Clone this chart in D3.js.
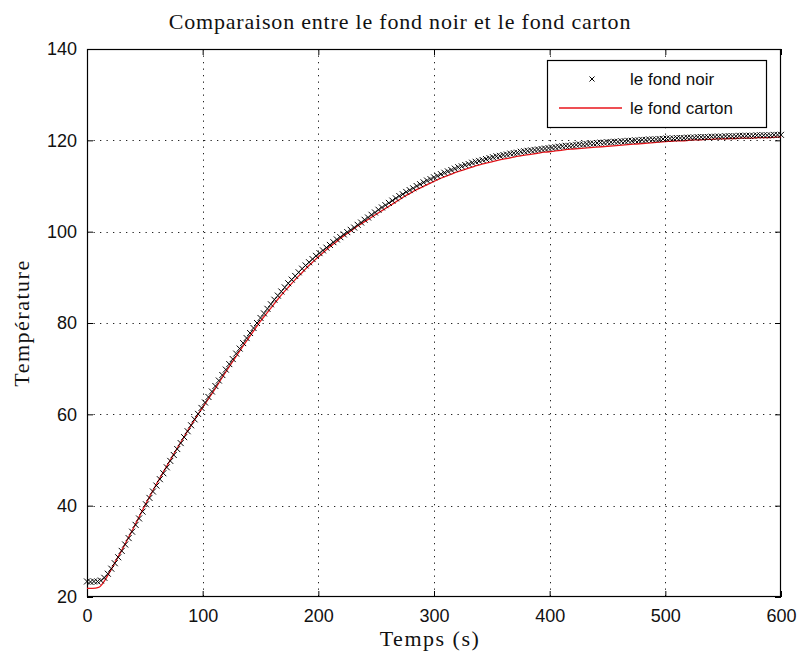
<!DOCTYPE html>
<html>
<head>
<meta charset="utf-8">
<script src="https://cdn.jsdelivr.net/npm/d3@7"></script>
<style>
  html, body { margin: 0; padding: 0; background: #ffffff; }
  svg { display: block; }
</style>
</head>
<body>
<svg id="chart" width="800" height="660"></svg>
<script>
// ---- data ----
const chartTitle = "Comparaison entre le fond noir et le fond carton";
const xLabel = "Temps (s)";
const yLabel = "Température";
const seriesNames = ["le fond noir", "le fond carton"];
const xTicks = [0, 100, 200, 300, 400, 500, 600];
const yTicks = [20, 40, 60, 80, 100, 120, 140];

// "le fond noir" : one sample every 3 s from 0 to 600 s
const noirStep = 3;
const noirValues = [
  23.4, 23.3, 23.4, 23.4, 23.6, 24.2, 25.1, 26.2, 27.4, 28.7,
  30.1, 31.5, 32.9, 34.3, 35.8, 37.2, 38.7, 40.3, 41.7, 43.1,
  44.4, 45.8, 47.1, 48.4, 49.8, 51.1, 52.4, 53.7, 55.0, 56.3,
  57.6, 58.9, 60.1, 61.4, 62.6, 63.8, 65.0, 66.2, 67.4, 68.6,
  69.8, 71.0, 72.1, 73.3, 74.4, 75.6, 76.7, 77.8, 78.9, 80.0,
  81.1, 82.1, 83.1, 84.1, 85.1, 86.0, 86.9, 87.8, 88.7, 89.5,
  90.3, 91.1, 91.9, 92.6, 93.3, 94.0, 94.7, 95.3, 95.9, 96.5,
  97.1, 97.7, 98.3, 98.8, 99.4, 99.9, 100.4, 100.9, 101.5, 102.0,
  102.6, 103.1, 103.7, 104.2, 104.8, 105.3, 105.8, 106.3, 106.8, 107.3,
  107.8, 108.2, 108.7, 109.1, 109.5, 110.0, 110.4, 110.8, 111.2, 111.5,
  111.9, 112.2, 112.6, 112.9, 113.2, 113.5, 113.8, 114.1, 114.3, 114.6,
  114.8, 115.1, 115.3, 115.5, 115.7, 115.9, 116.1, 116.3, 116.5, 116.6,
  116.8, 116.9, 117.1, 117.2, 117.3, 117.5, 117.6, 117.7, 117.8, 117.9,
  118.0, 118.1, 118.2, 118.3, 118.4, 118.5, 118.6, 118.7, 118.8, 118.8,
  118.9, 119.0, 119.1, 119.1, 119.2, 119.3, 119.3, 119.4, 119.5, 119.5,
  119.6, 119.6, 119.7, 119.7, 119.8, 119.8, 119.9, 119.9, 120.0, 120.0,
  120.1, 120.1, 120.2, 120.2, 120.2, 120.3, 120.3, 120.4, 120.4, 120.4,
  120.5, 120.5, 120.5, 120.6, 120.6, 120.6, 120.7, 120.7, 120.7, 120.7,
  120.8, 120.8, 120.8, 120.8, 120.9, 120.9, 120.9, 120.9, 121.0, 121.0,
  121.0, 121.0, 121.0, 121.1, 121.1, 121.1, 121.1, 121.1, 121.2, 121.2,
  121.2
];

// "le fond carton" : one sample every 5 s from 0 to 600 s
const cartonStep = 5;
const cartonValues = [
  21.9, 21.9, 22.1, 23.5, 25.6, 27.9, 30.2, 32.6, 35.0, 37.5,
  40.0, 42.4, 44.7, 46.9, 49.1, 51.3, 53.4, 55.5, 57.6, 59.6,
  61.5, 63.4, 65.3, 67.3, 69.3, 71.2, 73.1, 75.0, 76.8, 78.6,
  80.4, 82.0, 83.6, 85.2, 86.7, 88.1, 89.5, 90.8, 92.1, 93.3,
  94.5, 95.6, 96.7, 97.7, 98.7, 99.6, 100.5, 101.4, 102.2, 103.0,
  103.8, 104.6, 105.4, 106.2, 107.0, 107.8, 108.5, 109.2, 109.8, 110.4,
  111.0, 111.6, 112.1, 112.6, 113.1, 113.5, 113.9, 114.3, 114.7, 115.0,
  115.3, 115.6, 115.9, 116.1, 116.4, 116.6, 116.8, 117.0, 117.2, 117.4,
  117.5, 117.7, 117.8, 118.0, 118.1, 118.2, 118.3, 118.4, 118.5, 118.6,
  118.7, 118.8, 118.9, 119.0, 119.1, 119.2, 119.3, 119.4, 119.5, 119.6,
  119.7, 119.8, 119.9, 119.9, 120.0, 120.1, 120.1, 120.2, 120.2, 120.3,
  120.3, 120.4, 120.4, 120.5, 120.5, 120.5, 120.6, 120.6, 120.6, 120.7,
  120.7
];

// ---- layout ----
const svg = d3.select("#chart");
const W = 800, H = 660;
const margin = { left: 87, right: 19, top: 49, bottom: 63 };
const pw = W - margin.left - margin.right;
const ph = H - margin.top - margin.bottom;

const x = d3.scaleLinear().domain([0, 600]).range([margin.left, margin.left + pw]);
const y = d3.scaleLinear().domain([20, 140]).range([margin.top + ph, margin.top]);

const noir = noirValues.map((v, i) => ({ t: i * noirStep, v }));
const carton = cartonValues.map((v, i) => ({ t: i * cartonStep, v }));

svg.append("rect").attr("width", W).attr("height", H).attr("fill", "#ffffff");
svg.append("rect").attr("x", margin.left).attr("y", margin.top)
  .attr("width", pw).attr("height", ph).attr("fill", "#ffffff");

// grid
const grid = svg.append("g").attr("stroke", "#222").attr("stroke-width", 1)
  .attr("stroke-dasharray", "1.3,5.2");
grid.selectAll("line.gx").data(xTicks.slice(1, -1)).join("line")
  .attr("x1", d => Math.round(x(d)) + 0.5).attr("x2", d => Math.round(x(d)) + 0.5)
  .attr("y1", margin.top).attr("y2", margin.top + ph);
grid.selectAll("line.gy").data(yTicks.slice(1, -1)).join("line")
  .attr("y1", d => Math.round(y(d)) + 0.5).attr("y2", d => Math.round(y(d)) + 0.5)
  .attr("x1", margin.left).attr("x2", margin.left + pw);

// axes (ticks inward, on all four sides)
const tickFont = "'Liberation Sans', Arial, sans-serif";
const axB = svg.append("g").attr("transform", `translate(0,${margin.top + ph})`)
  .call(d3.axisBottom(x).tickValues(xTicks).tickSize(-6).tickPadding(12).tickFormat(d3.format("d")));
const axT = svg.append("g").attr("transform", `translate(0,${margin.top})`)
  .call(d3.axisTop(x).tickValues(xTicks).tickSize(-6).tickFormat(""));
const axL = svg.append("g").attr("transform", `translate(${margin.left},0)`)
  .call(d3.axisLeft(y).tickValues(yTicks).tickSize(-6).tickPadding(10).tickFormat(d3.format("d")));
const axR = svg.append("g").attr("transform", `translate(${margin.left + pw},0)`)
  .call(d3.axisRight(y).tickValues(yTicks).tickSize(-6).tickFormat(""));
[axB, axT, axL, axR].forEach(a => {
  a.select(".domain").remove();
  a.selectAll("line").attr("stroke", "#000").attr("stroke-width", 1);
  a.selectAll("text").attr("fill", "#111").style("font-family", tickFont).style("font-size", "18px");
});
svg.append("rect").attr("x", margin.left + 0.5).attr("y", margin.top + 0.5)
  .attr("width", pw - 1).attr("height", ph - 1)
  .attr("fill", "none").attr("stroke", "#000").attr("stroke-width", 1.2);

// red line
svg.append("path").datum(carton)
  .attr("fill", "none").attr("stroke", "#e8151b").attr("stroke-width", 1.3)
  .attr("d", d3.line().x(d => x(d.t)).y(d => y(d.v)).curve(d3.curveMonotoneX));

// black x markers
const ms = 3;
const crossPath = `M${-ms},${-ms}L${ms},${ms}M${-ms},${ms}L${ms},${-ms}`;
svg.append("g").selectAll("path").data(noir).join("path")
  .attr("transform", d => `translate(${x(d.t)},${y(d.v)})`)
  .attr("d", crossPath).attr("fill", "none").attr("stroke", "#000").attr("stroke-width", 1);

// title & labels
const serif = "'Liberation Serif', 'Times New Roman', serif";
svg.append("text").attr("x", 400).attr("y", 29)
  .attr("text-anchor", "middle").style("font-family", serif).style("font-size", "22px")
  .style("letter-spacing", "0.8px").attr("fill", "#111").text(chartTitle);
svg.append("text").attr("x", margin.left + pw / 2 - 4).attr("y", 646)
  .attr("text-anchor", "middle").style("font-family", serif).style("font-size", "22px")
  .style("letter-spacing", "1.5px").attr("fill", "#111").text(xLabel);
svg.append("text").attr("transform", `translate(29,${margin.top + ph / 2}) rotate(-90)`)
  .attr("text-anchor", "middle").style("font-family", serif).style("font-size", "22px")
  .style("letter-spacing", "1.5px").attr("fill", "#111").text(yLabel);

// legend
const lg = svg.append("g");
const lx = 547, ly = 60, lw = 219, lh = 67;
lg.append("rect").attr("x", lx + 0.5).attr("y", ly + 0.5).attr("width", lw).attr("height", lh)
  .attr("fill", "#fff").attr("stroke", "#000").attr("stroke-width", 1.2);
lg.append("path").attr("transform", `translate(${lx + 45},${ly + 19})`)
  .attr("d", "M-2.5,-2.5L2.5,2.5M-2.5,2.5L2.5,-2.5").attr("fill", "none").attr("stroke", "#000").attr("stroke-width", 1);
lg.append("line").attr("x1", lx + 12).attr("x2", lx + 75).attr("y1", ly + 48).attr("y2", ly + 48)
  .attr("stroke", "#e8151b").attr("stroke-width", 1.3);
lg.selectAll("text.lt").data(seriesNames).join("text")
  .attr("x", lx + 83).attr("y", (d, i) => ly + 19 + i * 29).attr("dy", "0.35em")
  .style("font-family", tickFont).style("font-size", "17px").attr("fill", "#111").text(d => d);
</script>
</body>
</html>
